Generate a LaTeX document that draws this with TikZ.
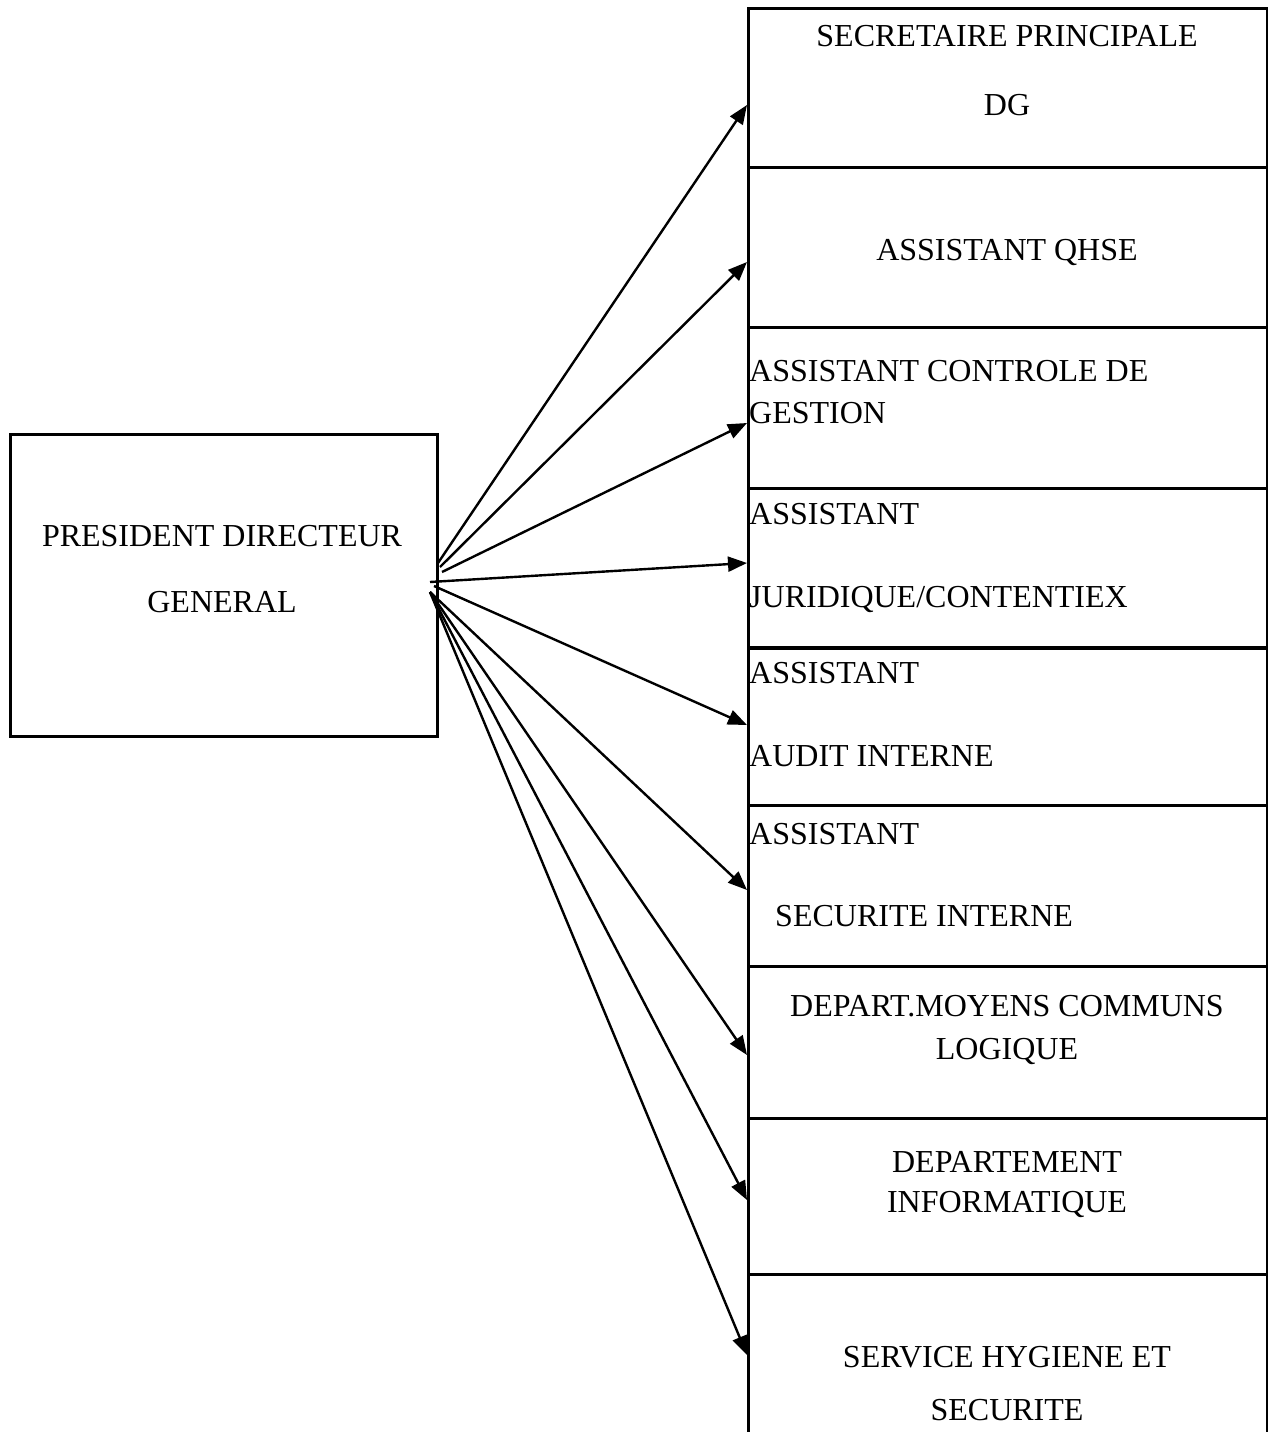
\documentclass[tikz,border=0pt]{standalone}
\usepackage{fontspec}
\setmainfont{Liberation Serif}
\usetikzlibrary{arrows.meta}
\begin{document}
\begin{tikzpicture}[x=1pt,y=-1pt,
  box/.style={draw,line width=2.5pt,anchor=north west,inner sep=0pt,minimum width=519pt},
  lbl/.style={inner sep=0pt,font=\fontsize{32}{38}\selectfont},
  arr/.style={line width=2.4pt,-{Triangle[length=19pt,width=15pt]}}]
\clip (0,0) rectangle (1268,1432);
% left box
\node[draw,line width=2.5pt,anchor=north west,inner sep=0pt,minimum width=427pt,minimum height=302pt] (pdg) at (9,433) {};
\node[lbl,anchor=base] (pdg1) at (222,546) {PRESIDENT DIRECTEUR};
\node[lbl,anchor=base] (pdg2) at (222,612) {GENERAL};
% right column
\node[box,minimum height=159pt] (b1) at (747,7) {};
\node[box,minimum height=160pt] (b2) at (747,166) {};
\node[box,minimum height=161pt] (b3) at (747,326) {};
\node[box,minimum height=159pt] (b4) at (747,487) {};
\node[box,minimum height=158pt] (b5) at (747,646) {};
\node[box,minimum height=161pt] (b6) at (747,804) {};
\node[box,minimum height=152pt] (b7) at (747,965) {};
\node[box,minimum height=156pt] (b8) at (747,1117) {};
\node[box,minimum height=200pt] (b9) at (747,1273) {};
\draw[line width=3.6pt] (b4.south west) -- (b4.south east);
% texts
\node[lbl,anchor=base] (t1a) at (1007,46) {SECRETAIRE PRINCIPALE};
\node[lbl,anchor=base] (t1b) at (1007,115) {DG};
\node[lbl,anchor=base] (t2) at (1007,260) {ASSISTANT QHSE};
\node[lbl,anchor=base west] (t3a) at (749,381) {ASSISTANT CONTROLE DE};
\node[lbl,anchor=base west] (t3b) at (749,423) {GESTION};
\node[lbl,anchor=base west] (t4a) at (749,524) {ASSISTANT};
\node[lbl,anchor=base west] (t4b) at (749,607) {JURIDIQUE/CONTENTIEX};
\node[lbl,anchor=base west] (t5a) at (749,683) {ASSISTANT};
\node[lbl,anchor=base west] (t5b) at (749,766) {AUDIT INTERNE};
\node[lbl,anchor=base west] (t6a) at (749,844) {ASSISTANT};
\node[lbl,anchor=base west] (t6b) at (775,926) {SECURITE INTERNE};
\node[lbl,anchor=base] (t7a) at (1007,1016) {DEPART.MOYENS COMMUNS};
\node[lbl,anchor=base] (t7b) at (1007,1059) {LOGIQUE};
\node[lbl,anchor=base] (t8a) at (1007,1172) {DEPARTEMENT};
\node[lbl,anchor=base] (t8b) at (1007,1212) {INFORMATIQUE};
\node[lbl,anchor=base] (t9a) at (1007,1367) {SERVICE HYGIENE ET};
\node[lbl,anchor=base] (t9b) at (1007,1420) {SECURITE};
% arrow start and end points
\coordinate (s1) at (438,563);
\coordinate (s2) at (440,567);
\coordinate (s3) at (442,572);
\coordinate (s4) at (430,582);
\coordinate (s5) at (434,586);
\coordinate (s6) at (430,592);
\coordinate (e1) at (747,105);
\coordinate (e2) at (747,262);
\coordinate (e3) at (747,423);
\coordinate (e4) at (747,563);
\coordinate (e5) at (747,725);
\coordinate (e6) at (747,890);
\coordinate (e7) at (747,1055);
\coordinate (e8) at (747,1200);
\coordinate (e9) at (747,1355);
\draw[arr] (s1) -- (e1);
\draw[arr] (s2) -- (e2);
\draw[arr] (s3) -- (e3);
\draw[arr] (s4) -- (e4);
\draw[arr] (s5) -- (e5);
\draw[arr] (s6) -- (e6);
\draw[arr] (s6) -- (e7);
\draw[arr] (s6) -- (e8);
\draw[arr] (s6) -- (e9);
\end{tikzpicture}
\end{document}
